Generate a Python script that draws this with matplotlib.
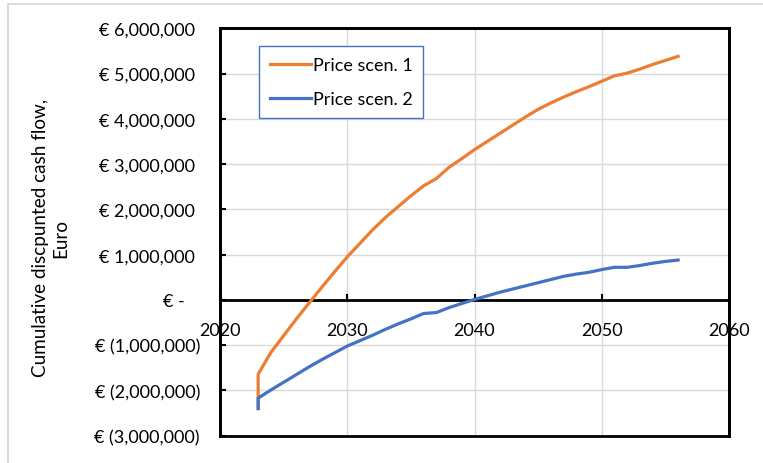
import matplotlib
matplotlib.use("Agg")
import matplotlib.pyplot as plt
import matplotlib.transforms as mtransforms
from matplotlib.patches import Rectangle
from matplotlib.ticker import FuncFormatter, FixedLocator

plt.rcParams['font.family'] = ['Lato', 'DejaVu Sans']

# Cumulative discounted cash flow per year (millions of euro)
years = [2023, 2023, 2024, 2025, 2026, 2027, 2028, 2029, 2030, 2031, 2032,
         2033, 2034, 2035, 2036, 2037, 2038, 2039, 2040, 2041, 2042, 2043,
         2044, 2045, 2046, 2047, 2048, 2049, 2050, 2051, 2052, 2053, 2054,
         2055, 2056]
scen1_m = [-2.40, -1.64, -1.16, -0.79, -0.42, -0.07, 0.28, 0.62, 0.95, 1.25,
           1.55, 1.82, 2.06, 2.30, 2.52, 2.68, 2.93, 3.12, 3.32, 3.50, 3.68,
           3.86, 4.04, 4.21, 4.35, 4.48, 4.60, 4.71, 4.83, 4.95, 5.01, 5.10,
           5.20, 5.29, 5.38]
scen2_m = [-2.40, -2.17, -1.99, -1.82, -1.65, -1.48, -1.32, -1.17, -1.02,
           -0.90, -0.78, -0.65, -0.53, -0.42, -0.30, -0.28, -0.17, -0.08,
           0.01, 0.09, 0.17, 0.24, 0.31, 0.38, 0.45, 0.52, 0.57, 0.61, 0.67,
           0.72, 0.72, 0.76, 0.81, 0.85, 0.88]
series_names = ["Price scen. 1", "Price scen. 2"]
x_ticks = [2020, 2030, 2040, 2050, 2060]
y_ticks = [-3e6, -2e6, -1e6, 0, 1e6, 2e6, 3e6, 4e6, 5e6, 6e6]
y_label = "Cumulative discpunted cash flow,\nEuro"

ORANGE = "#ED7D31"
BLUE = "#4472C4"
GRID = "#D9D9D9"
FS = 13

W, H = 763, 464
fig = plt.figure(figsize=(W / 100, H / 100), dpi=100)
ax = fig.add_axes([220 / W, 1 - 436.7 / H, (729 - 220) / W, (436.7 - 29.3) / H])

# light chart-area border
fig.patches.append(Rectangle((8 / W, -0.2), 1.2, 1.2 - 5 / H, transform=fig.transFigure,
                             fill=False, edgecolor="#D4D4D4", lw=1.2))

ax.plot(years, [v * 1e6 for v in scen1_m], color=ORANGE, lw=2.3,
        label=series_names[0], solid_joinstyle="round", zorder=3)
ax.plot(years, [v * 1e6 for v in scen2_m], color=BLUE, lw=2.3,
        label=series_names[1], solid_joinstyle="round", zorder=4)

ax.set_xlim(x_ticks[0], x_ticks[-1])
ax.set_ylim(y_ticks[0], y_ticks[-1])
ax.xaxis.set_major_locator(FixedLocator(x_ticks))
ax.yaxis.set_major_locator(FixedLocator(y_ticks))


def euro_fmt(v, pos):
    if abs(v) < 0.5:
        return "€ -"
    if v < 0:
        return f"€ ({-v:,.0f})"
    return f"€ {v:,.0f}"


ax.yaxis.set_major_formatter(FuncFormatter(euro_fmt))
ax.xaxis.set_major_formatter(FuncFormatter(lambda v, p: f"{v:.0f}"))

ax.grid(True, color=GRID, lw=1.0, zorder=0)
ax.set_axisbelow(True)

# horizontal axis crosses at zero
ax.spines['bottom'].set_position(('data', 0))
for s in ax.spines.values():
    s.set_linewidth(2.0)
    s.set_color("black")
ax.spines['bottom'].set_zorder(2.5)
ax.add_patch(Rectangle((0, 0), 1, 1, transform=ax.transAxes, fill=False,
                       edgecolor="black", lw=2.0, clip_on=False, zorder=2.5))

ax.tick_params(axis='x', direction='in', length=4, width=1.5, pad=16,
               labelsize=FS, colors="black")
ax.tick_params(axis='y', direction='in', length=4, width=1.5, pad=14.4,
               labelsize=FS, colors="black")

ax.set_ylabel(y_label, fontsize=13.6, linespacing=1.2, labelpad=0)
ax.yaxis.set_label_coords(-151 / (729 - 220), (436.7 - 238) / (436.7 - 29.3))

leg = ax.legend(loc="upper left", bbox_to_anchor=(39 / 509, 1 - 18 / 407.4),
                borderaxespad=0, fancybox=False, fontsize=FS, handlelength=2.3,
                handletextpad=0.08, labelspacing=1.0, borderpad=0.6,
                framealpha=1)
leg.get_frame().set_edgecolor(BLUE)
leg.get_frame().set_linewidth(1.0)
for h in leg.get_lines():
    h.set_linewidth(2.3)

# accounting-style alignment of the euro labels
fig.canvas.draw()
for tick in ax.yaxis.get_major_ticks():
    v = tick.get_loc()
    if abs(v) < 0.5:
        dx = -10.8
    elif v > 0:
        dx = -3.6
    else:
        dx = 0
    if dx:
        off = mtransforms.ScaledTranslation(dx / 72, 0, fig.dpi_scale_trans)
        tick.label1.set_transform(tick.label1.get_transform() + off)

fig.savefig("out.png", dpi=100)
